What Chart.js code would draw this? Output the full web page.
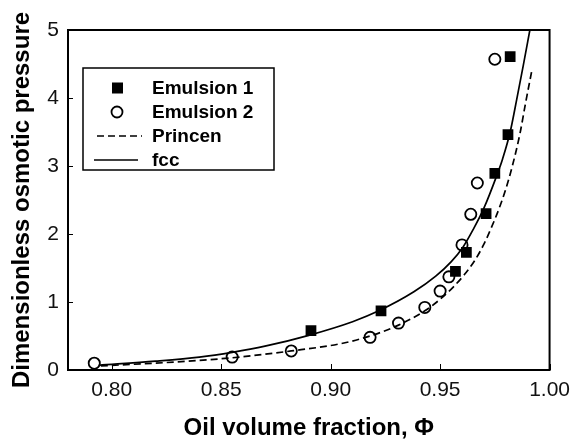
<!DOCTYPE html>
<html>
<head>
<meta charset="utf-8">
<script src="https://cdn.jsdelivr.net/npm/chart.js@4.4.1/dist/chart.umd.min.js"></script>
<style>
html,body{margin:0;padding:0;background:#fff;}
canvas{display:block;}
</style>
</head>
<body>
<canvas id="chart" width="578" height="439"></canvas>
<script>
// values
const emulsion1X = [0.891, 0.923, 0.957, 0.962, 0.971, 0.975, 0.981, 0.982];
const emulsion1Y = [0.58, 0.87, 1.45, 1.73, 2.30, 2.89, 3.46, 4.61];
const emulsion2X = [0.792, 0.855, 0.882, 0.918, 0.931, 0.943, 0.950, 0.954, 0.960, 0.964, 0.967, 0.975];
const emulsion2Y = [0.10, 0.19, 0.28, 0.48, 0.69, 0.92, 1.16, 1.37, 1.84, 2.29, 2.75, 4.57];
const princenX = [0.795, 0.83, 0.855, 0.882, 0.905, 0.918, 0.931, 0.943, 0.950, 0.956, 0.961, 0.966, 0.970, 0.9735, 0.977, 0.980, 0.983, 0.9865, 0.989, 0.992];
const princenY = [0.06, 0.12, 0.18, 0.28, 0.39, 0.50, 0.66, 0.87, 1.04, 1.22, 1.40, 1.62, 1.85, 2.10, 2.38, 2.66, 3.00, 3.48, 3.92, 4.42];
const fccX = [0.794, 0.82, 0.84, 0.855, 0.870, 0.890, 0.910, 0.922, 0.938, 0.948, 0.955, 0.9605, 0.965, 0.970, 0.976, 0.9785, 0.982, 0.985, 0.988, 0.991];
const fccY = [0.07, 0.13, 0.19, 0.26, 0.35, 0.51, 0.71, 0.87, 1.15, 1.38, 1.59, 1.81, 2.06, 2.38, 2.87, 3.10, 3.50, 3.98, 4.48, 5.00];
const xTicks = [0.80, 0.85, 0.90, 0.95, 1.00];
const yTicks = [0, 1, 2, 3, 4, 5];
const legendLabels = ['Emulsion 1', 'Emulsion 2', 'Princen', 'fcc'];

const FONT = '"Liberation Sans", Arial, Helvetica, sans-serif';
const pts = (xs, ys) => xs.map((x, i) => ({x, y: ys[i]}));

// frame, inward tick marks and the boxed legend
const decor = {
  id: 'decor',
  afterDraw(chart){
    const ctx = chart.ctx, a = chart.chartArea;
    const xs = chart.scales.x, ys = chart.scales.y;
    ctx.save();
    ctx.strokeStyle = '#000';
    ctx.lineWidth = 2;
    ctx.strokeRect(a.left, a.top, a.right - a.left, a.bottom - a.top);
    ctx.lineWidth = 1;
    ctx.beginPath();
    xTicks.forEach(v => { const p = Math.round(xs.getPixelForValue(v)) + 0.5; ctx.moveTo(p, a.bottom); ctx.lineTo(p, a.bottom - 6); });
    yTicks.forEach(v => { const p = Math.round(ys.getPixelForValue(v)) + 0.5; ctx.moveTo(a.left, p); ctx.lineTo(a.left + 5, p); });
    ctx.stroke();

    // legend
    const bx = 83, by = 68, bw = 191, bh = 102;
    ctx.fillStyle = '#fff';
    ctx.fillRect(bx, by, bw, bh);
    ctx.lineWidth = 1.5;
    ctx.strokeRect(bx, by, bw, bh);
    const rows = [88, 112, 136, 160];
    ctx.fillStyle = '#000';
    ctx.fillRect(112, rows[0] - 5.5, 11, 11);
    ctx.beginPath(); ctx.arc(117, rows[1], 5.5, 0, Math.PI * 2);
    ctx.lineWidth = 1.8; ctx.stroke();
    ctx.lineWidth = 1.6;
    ctx.setLineDash([7, 4]);
    ctx.beginPath(); ctx.moveTo(97, rows[2]); ctx.lineTo(142, rows[2]); ctx.stroke();
    ctx.setLineDash([]);
    ctx.beginPath(); ctx.moveTo(94, rows[3]); ctx.lineTo(138, rows[3]); ctx.stroke();
    ctx.font = 'bold 19px ' + FONT;
    ctx.textBaseline = 'middle';
    ctx.textAlign = 'left';
    legendLabels.forEach((t, i) => ctx.fillText(t, 152, rows[i] + 1));
    ctx.restore();
  }
};

new Chart(document.getElementById('chart').getContext('2d'), {
  type: 'scatter',
  data: {
    datasets: [
      {label: legendLabels[3], data: pts(fccX, fccY), showLine: true, pointRadius: 0,
       borderColor: '#000', borderWidth: 1.7, cubicInterpolationMode: 'monotone', order: 0},
      {label: legendLabels[2], data: pts(princenX, princenY), showLine: true, pointRadius: 0,
       borderColor: '#000', borderWidth: 1.7, borderDash: [7, 4], cubicInterpolationMode: 'monotone', order: 1},
      {label: legendLabels[0], data: pts(emulsion1X, emulsion1Y), pointStyle: 'rect', pointRadius: 7.6,
       backgroundColor: '#000', borderColor: '#000', borderWidth: 0, order: 2},
      {label: legendLabels[1], data: pts(emulsion2X, emulsion2Y), pointStyle: 'circle', pointRadius: 5.6,
       backgroundColor: '#fff', borderColor: '#000', borderWidth: 1.8, order: 3}
    ]
  },
  options: {
    responsive: false,
    animation: false,
    devicePixelRatio: 1,
    layout: {padding: {top: 30, right: 22, left: 0, bottom: 0}},
    plugins: {legend: {display: false}, tooltip: {enabled: false}},
    scales: {
      x: {
        type: 'linear', min: 0.78, max: 1.00,
        afterBuildTicks: s => { s.ticks = xTicks.map(v => ({value: v})); },
        afterFit: s => { s.height = 69; },
        grid: {display: false, drawTicks: false},
        border: {display: false},
        ticks: {padding: 8, color: '#111', font: {family: FONT, size: 21}, callback: v => v.toFixed(2)},
        title: {display: true, text: 'Oil volume fraction, Φ', color: '#000', padding: 0,
                font: {family: FONT, size: 24, weight: 'bold', lineHeight: 0.9}}
      },
      y: {
        type: 'linear', min: 0, max: 5,
        afterBuildTicks: s => { s.ticks = yTicks.map(v => ({value: v})); },
        afterFit: s => { s.width = 68; },
        grid: {display: false, drawTicks: false},
        border: {display: false},
        ticks: {padding: 9, color: '#111', font: {family: FONT, size: 21}, callback: v => String(v)},
        title: {display: true, text: 'Dimensionless osmotic pressure', color: '#000', padding: {top: 8, bottom: 0},
                font: {family: FONT, size: 24, weight: 'bold'}}
      }
    }
  },
  plugins: [decor]
});
</script>
</body>
</html>
